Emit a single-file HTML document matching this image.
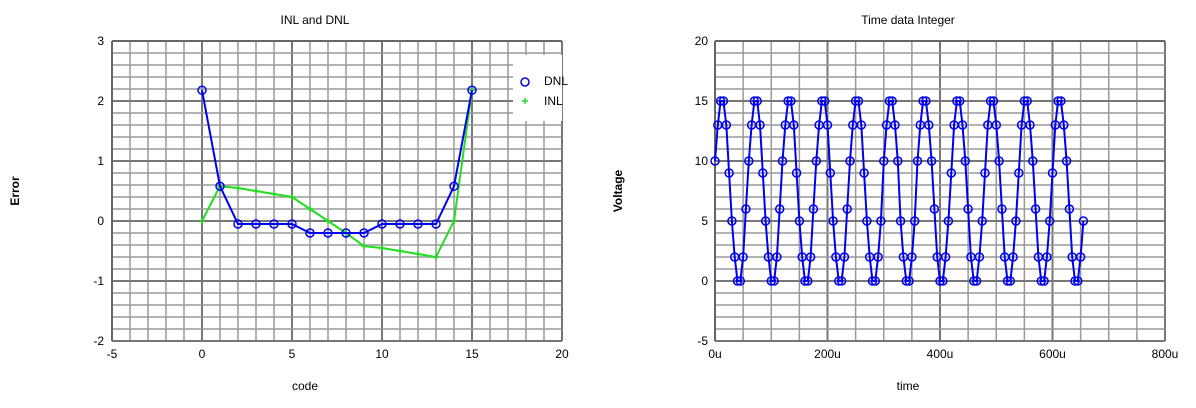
<!DOCTYPE html>
<html><head><meta charset="utf-8"><style>
html,body{margin:0;padding:0;background:#fff;width:1196px;height:408px;overflow:hidden}
svg{display:block;font-family:"Liberation Sans",Arial,sans-serif}
</style></head><body>
<svg id="s" width="1196" height="408" xmlns="http://www.w3.org/2000/svg"></svg>
<script>
const s=document.getElementById('s');let h='';
function L(x1,y1,x2,y2,c,w){h+=`<line x1="${x1}" y1="${y1}" x2="${x2}" y2="${y2}" stroke="${c}" stroke-width="${w}"/>`;}
function T(x,y,t,a,extra){h+=`<text x="${x}" y="${y}" font-size="12" text-anchor="${a||'middle'}" ${extra||''}>${t}</text>`;}
// LEFT
const lx0=112,lx1=562,ly0=41,ly1=341;
const LX=v=>lx0+(v+5)*18, LY=v=>ly0+(3-v)*60;
for(let i=0;i<=25;i++){const x=lx0+i*18;L(x,ly0,x,ly1,i%5==0?'#777':'#999',i%5==0?2:1.5);}
for(let i=0;i<=25;i++){const y=ly0+i*12;L(lx0,y,lx1,y,i%5==0?'#777':'#999',i%5==0?2:1.5);}
L(lx0,ly0,lx0,ly1,'#666',2);L(lx0,ly0,lx1,ly0,'#666',2);
[-5,0,5,10,15,20].forEach(v=>T(LX(v),358,v));
[3,2,1,0,-1,-2].forEach(v=>T(104,LY(v)+4,v,'end'));
T(315,24,'INL and DNL');T(305,390,'code');
h+=`<text x="19" y="191" font-size="12" font-weight="bold" text-anchor="middle" transform="rotate(-90 19 191)">Error</text>`;
const dnl=[2.18,0.58,-0.05,-0.05,-0.05,-0.05,-0.2,-0.2,-0.2,-0.2,-0.05,-0.05,-0.05,-0.05,0.58,2.18];
const inl=[0,0.58,0.55,0.5,0.45,0.4,0.2,0,-0.2,-0.42,-0.45,-0.5,-0.55,-0.6,0,2.18];
h+=`<polyline fill="none" stroke="#22dd22" stroke-width="2" points="${inl.map((v,i)=>LX(i)+','+LY(v)).join(' ')}"/>`;
inl.forEach((v,i)=>{const x=LX(i),y=LY(v);L(x-3,y,x+3,y,'#22dd22',1.5);L(x,y-3,x,y+3,'#22dd22',1.5);});
h+=`<polyline fill="none" stroke="#0000ee" stroke-width="2" points="${dnl.map((v,i)=>LX(i)+','+LY(v)).join(' ')}"/>`;
dnl.forEach((v,i)=>h+=`<circle cx="${LX(i)}" cy="${LY(v)}" r="4" fill="none" stroke="#0000ee" stroke-width="1.5"/>`);
h+=`<rect x="513" y="55" width="49" height="66" fill="#fff"/>`;
h+=`<circle cx="525" cy="82" r="4" fill="none" stroke="#0000ee" stroke-width="1.5"/>`;
L(522,101,528,101,'#22dd22',1.5);L(525,98,525,104,'#22dd22',1.5);
T(544,85,'DNL','start');T(544,105,'INL','start');
// RIGHT
const rx0=715,rx1=1165,ry0=41,ry1=341;
const RX=t=>rx0+t*450/800, RY=v=>ry0+(20-v)*12;
for(let i=0;i<=16;i++){const x=rx0+i*450/16;L(x,ry0,x,ry1,i%4==0?'#777':'#999',i%4==0?2:1.5);}
for(let i=0;i<=25;i++){const y=ry0+i*12;L(rx0,y,rx1,y,i%5==0?'#777':'#999',i%5==0?2:1.5);}
L(rx0,ry0,rx0,ry1,'#666',2);L(rx0,ry0,rx1,ry0,'#666',2);
['0u','200u','400u','600u','800u'].forEach((t,i)=>T(rx0+i*112.5,358,t));
[20,15,10,5,0,-5].forEach(v=>T(708,RY(v)+4,v,'end'));
T(908,24,'Time data Integer');T(908,390,'time');
h+=`<text x="622" y="191" font-size="12" font-weight="bold" text-anchor="middle" transform="rotate(-90 622 191)">Voltage</text>`;
const pts=[];const P=60.1,ph=0.318,st=5;
for(let k=0;k*st<=655;k++){const t=k*st;let v=Math.round(7.5+8*Math.sin(2*Math.PI*t/P+ph));v=Math.max(0,Math.min(15,v));pts.push([RX(t),RY(v)]);}
h+=`<polyline fill="none" stroke="#0000ee" stroke-width="2" points="${pts.map(p=>p[0].toFixed(1)+','+p[1]).join(' ')}"/>`;
pts.forEach(p=>h+=`<circle cx="${p[0].toFixed(1)}" cy="${p[1]}" r="4" fill="none" stroke="#0000ee" stroke-width="1.5"/>`);
s.innerHTML=h;
</script>
</body></html>
